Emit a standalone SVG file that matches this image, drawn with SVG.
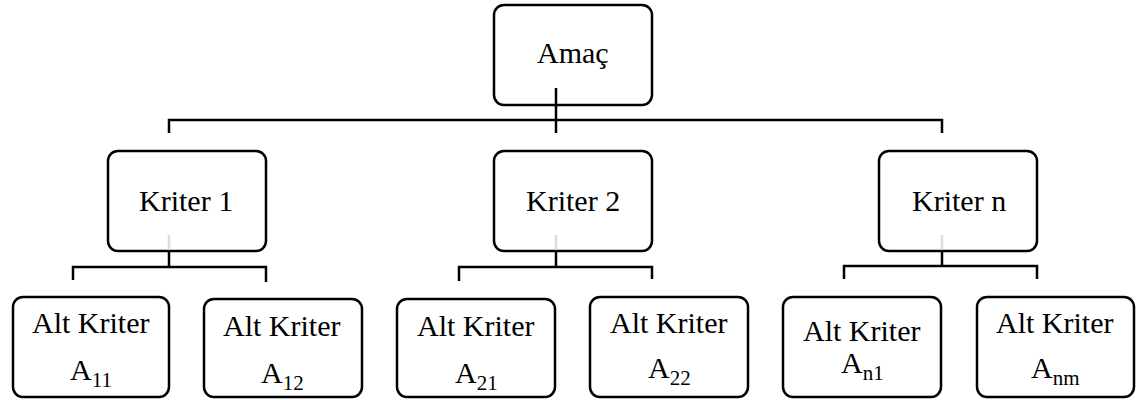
<svg xmlns="http://www.w3.org/2000/svg" width="1139" height="400" viewBox="0 0 1139 400">
<style>
  .box { fill: #ffffff; stroke: #000000; stroke-width: 2.5; }
  .conn { fill: none; stroke: #000000; stroke-width: 2.5; }
  .inner { fill: none; stroke: #dddddd; stroke-width: 2.5; }
</style>
<rect width="1139" height="400" fill="#ffffff"/>

<g id="node-amac">
  <rect class="box" x="494" y="5" width="158" height="100" rx="10"/>
  <text x="537" y="63" style="font-family: 'Liberation Serif'; font-size: 30px">Amaç</text>
</g>
<g id="node-kriter1">
  <rect class="box" x="108" y="151" width="158" height="100" rx="10"/>
  <text x="139" y="211" style="font-family: 'Liberation Serif'; font-size: 30px">Kriter 1</text>
</g>
<g id="node-kriter2">
  <rect class="box" x="494" y="151" width="158" height="100" rx="10"/>
  <text x="526" y="211" style="font-family: 'Liberation Serif'; font-size: 30px">Kriter 2</text>
</g>
<g id="node-kritern">
  <rect class="box" x="879" y="151" width="158" height="100" rx="10"/>
  <text x="912" y="211" style="font-family: 'Liberation Serif'; font-size: 30px">Kriter n</text>
</g>
<g id="node-a11">
  <rect class="box" x="13" y="297" width="156" height="100" rx="10"/>
  <text x="32" y="333" style="font-family: 'Liberation Serif'; font-size: 30px">Alt Kriter</text>
  <text x="70" y="380" style="font-family: 'Liberation Serif'; font-size: 30px">A<tspan dy="7" style="font-size: 21px">11</tspan></text>
</g>
<g id="node-a12">
  <rect class="box" x="204" y="299" width="158" height="98" rx="10"/>
  <text x="223" y="336" style="font-family: 'Liberation Serif'; font-size: 30px">Alt Kriter</text>
  <text x="261" y="383" style="font-family: 'Liberation Serif'; font-size: 30px">A<tspan dy="7" style="font-size: 21px">12</tspan></text>
</g>
<g id="node-a21">
  <rect class="box" x="397" y="299" width="158" height="98" rx="10"/>
  <text x="417" y="336" style="font-family: 'Liberation Serif'; font-size: 30px">Alt Kriter</text>
  <text x="455" y="383" style="font-family: 'Liberation Serif'; font-size: 30px">A<tspan dy="7" style="font-size: 21px">21</tspan></text>
</g>
<g id="node-a22">
  <rect class="box" x="590" y="297" width="158" height="100" rx="10"/>
  <text x="610" y="333" style="font-family: 'Liberation Serif'; font-size: 30px">Alt Kriter</text>
  <text x="648" y="378" style="font-family: 'Liberation Serif'; font-size: 30px">A<tspan dy="7" style="font-size: 21px">22</tspan></text>
</g>
<g id="node-an1">
  <rect class="box" x="783" y="297" width="158" height="100" rx="10"/>
  <text x="803" y="341" style="font-family: 'Liberation Serif'; font-size: 30px">Alt Kriter</text>
  <text x="841" y="373" style="font-family: 'Liberation Serif'; font-size: 30px">A<tspan dy="7" style="font-size: 21px">n1</tspan></text>
</g>
<g id="node-anm">
  <rect class="box" x="977" y="297" width="157" height="100" rx="10"/>
  <text x="996" y="333" style="font-family: 'Liberation Serif'; font-size: 30px">Alt Kriter</text>
  <text x="1031" y="378" style="font-family: 'Liberation Serif'; font-size: 30px">A<tspan dy="7" style="font-size: 21px">nm</tspan></text>
</g>

<g id="connectors">
  <path class="conn" d="M556 88 V133"/>
  <path class="conn" d="M169 133 V120 H942 V133"/>
  <path class="inner" d="M169 235 V250 M556 235 V250 M942 235 V250"/>
  <path class="conn" d="M169 251 V267"/>
  <path class="conn" d="M73 280 V267 H266 V282"/>
  <path class="conn" d="M556 251 V267"/>
  <path class="conn" d="M459 281 V267 H652 V279"/>
  <path class="conn" d="M942 251 V266"/>
  <path class="conn" d="M844 279 V266 H1037 V279"/>
</g>
</svg>
